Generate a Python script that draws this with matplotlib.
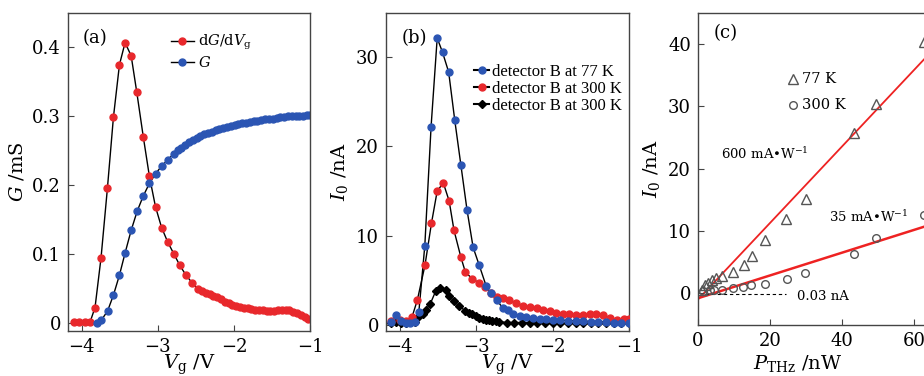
import numpy as np
import matplotlib
matplotlib.use("Agg")
import matplotlib.pyplot as plt

plt.rcParams['font.family'] = ['DejaVu Serif']
plt.rcParams['mathtext.fontset'] = 'dejavuserif'
plt.rcParams['xtick.direction'] = 'in'
plt.rcParams['ytick.direction'] = 'in'

RED = '#e8282c'
BLUE = '#2b55b3'
GREY = '#555555'

# ---- panel (a): dG/dVg and G vs Vg
dg_vg = [-4.10, -4.03, -3.96, -3.89, -3.825, -3.746, -3.662, -3.583, -3.504, -3.43, -3.35,
         -3.276, -3.19, -3.11, -3.03, -2.95, -2.87, -2.79, -2.71, -2.63, -2.55, -2.47,
         -2.42, -2.37, -2.32, -2.27, -2.22, -2.17, -2.12, -2.07, -2.02, -1.97, -1.92,
         -1.87, -1.82, -1.77, -1.72, -1.67, -1.62, -1.57, -1.52, -1.47, -1.42, -1.37,
         -1.32, -1.27, -1.22, -1.17, -1.12, -1.07, -1.02]
dg_val = [0.001, 0.001, 0.001, 0.001, 0.022, 0.094, 0.195, 0.298, 0.374, 0.406, 0.387,
          0.334, 0.269, 0.212, 0.168, 0.138, 0.117, 0.100, 0.083, 0.069, 0.058, 0.049,
          0.046, 0.043, 0.041, 0.039, 0.037, 0.034, 0.030, 0.028, 0.026, 0.024, 0.023,
          0.022, 0.021, 0.020, 0.019, 0.018, 0.018, 0.017, 0.017, 0.017, 0.018, 0.019,
          0.019, 0.018, 0.016, 0.014, 0.011, 0.008, 0.005]

g_vg = [-3.80, -3.74, -3.66, -3.583, -3.504, -3.43, -3.35, -3.27, -3.19, -3.11, -3.03,
        -2.95, -2.87, -2.79, -2.74, -2.69, -2.64, -2.59, -2.54, -2.49, -2.44, -2.39,
        -2.34, -2.29, -2.24, -2.19, -2.14, -2.09, -2.04, -1.99, -1.94, -1.89, -1.84,
        -1.79, -1.74, -1.69, -1.64, -1.59, -1.54, -1.49, -1.44, -1.39, -1.34, -1.29,
        -1.24, -1.19, -1.14, -1.09, -1.04, -1.00]
g_val = [0.000, 0.004, 0.017, 0.040, 0.069, 0.101, 0.134, 0.162, 0.184, 0.202, 0.216,
         0.227, 0.236, 0.245, 0.250, 0.254, 0.258, 0.262, 0.265, 0.268, 0.271, 0.273,
         0.275, 0.277, 0.279, 0.281, 0.283, 0.284, 0.285, 0.287, 0.288, 0.289, 0.290,
         0.291, 0.292, 0.293, 0.294, 0.295, 0.296, 0.296, 0.297, 0.298, 0.298, 0.299,
         0.299, 0.300, 0.300, 0.300, 0.301, 0.301]

# ---- panel (b): I0 vs Vg
b77_vg = [-4.12, -4.05, -3.98, -3.92, -3.86, -3.80, -3.75, -3.672, -3.59, -3.51, -3.44,
          -3.36, -3.28, -3.20, -3.12, -3.04, -2.96, -2.87, -2.81, -2.73, -2.65, -2.59,
          -2.52, -2.43, -2.35, -2.26, -2.17, -2.08, -2.00, -1.90, -1.80, -1.70, -1.60,
          -1.50, -1.40, -1.30, -1.20, -1.10, -1.00]
b77_i = [0.4, 1.1, 0.5, 0.3, 0.3, 0.4, 1.5, 8.9, 22.2, 32.1, 30.5,
         28.3, 22.9, 17.9, 12.9, 8.7, 6.7, 4.4, 3.6, 2.8, 1.9, 1.7,
         1.3, 1.0, 0.9, 0.8, 0.7, 0.7, 0.6, 0.6, 0.5, 0.5, 0.5,
         0.4, 0.4, 0.4, 0.3, 0.3, 0.3]

b300_vg = [-4.12, -4.00, -3.92, -3.84, -3.77, -3.67, -3.585, -3.51, -3.43, -3.354, -3.29,
           -3.20, -3.14, -3.05, -2.96, -2.88, -2.81, -2.73, -2.65, -2.57, -2.48, -2.39,
           -2.30, -2.21, -2.13, -2.04, -1.95, -1.86, -1.78, -1.69, -1.60, -1.51, -1.43,
           -1.34, -1.25, -1.16, -1.07, -1.00]
b300_i = [0.5, 0.6, 0.5, 0.9, 2.8, 6.7, 11.4, 15.0, 15.9, 13.9, 10.6,
          7.6, 5.9, 5.2, 4.7, 4.3, 3.6, 3.2, 3.0, 2.8, 2.5, 2.2,
          2.0, 1.9, 1.7, 1.6, 1.4, 1.3, 1.2, 1.1, 1.15, 1.2, 1.3,
          1.1, 0.85, 0.6, 0.7, 0.7]

bd_vg = [-4.12, -4.05, -3.98, -3.92, -3.86, -3.80, -3.75, -3.70, -3.66, -3.60, -3.53,
         -3.47, -3.40, -3.36, -3.29, -3.22, -3.14, -3.09, -3.05, -3.00, -2.96, -2.91,
         -2.87, -2.83, -2.79, -2.74, -2.70, -2.60, -2.50, -2.40, -2.30, -2.20, -2.10,
         -2.00, -1.90, -1.80, -1.70, -1.60, -1.50, -1.40, -1.30, -1.20, -1.10, -1.00]
bd_i = [0.3, 0.4, 0.2, 0.2, 0.5, 0.4, 1.0, 1.3, 1.7, 2.4, 3.8,
        4.2, 3.9, 3.3, 2.7, 2.1, 1.6, 1.4, 1.2, 1.0, 0.85, 0.7,
        0.6, 0.55, 0.5, 0.45, 0.4, 0.3, 0.3, 0.3, 0.25, 0.25, 0.2,
        0.2, 0.2, 0.2, 0.2, 0.2, 0.2, 0.2, 0.2, 0.2, 0.2, 0.2]

# ---- panel (c): I0 vs THz power
p77 = [1.2, 1.9, 2.9, 3.8, 4.9, 6.8, 9.8, 12.9, 14.9, 18.6, 24.5, 30.0, 43.3, 49.5, 62.8]
i77 = [0.6, 1.3, 1.7, 2.1, 2.5, 2.7, 3.4, 4.6, 5.9, 8.5, 12.0, 15.1, 25.7, 30.4, 40.3]
p300 = [1.5, 3.3, 4.4, 6.6, 9.8, 12.6, 14.7, 18.6, 24.6, 29.7, 43.3, 49.5, 62.8]
i300 = [0.4, 0.5, 0.6, 0.6, 0.85, 1.0, 1.3, 1.55, 2.3, 3.3, 6.3, 8.9, 12.5]
fit77_p = [0.0, 64.0]
fit77_i = [-1.0, 38.3]
fit300_p = [0.0, 64.0]
fit300_i = [-0.8, 10.9]
noise_p = [2.0, 24.5]
noise_i = [-0.1, -0.1]

fig = plt.figure(figsize=(9.24, 3.76), dpi=100)
H = 376.0
W = 924.0


def frame(ax):
    for s in ax.spines.values():
        s.set_color('#444444')
        s.set_linewidth(1.0)
    ax.tick_params(labelsize=13, length=4, width=0.8, color='#444444', pad=5)


# (a)
ax1 = fig.add_axes([68 / W, (H - 331) / H, 242 / W, 318 / H])
ax1.plot(dg_vg, dg_val, '-', color='k', lw=1.0, zorder=1)
ax1.plot(g_vg, g_val, '-', color='k', lw=1.0, zorder=1)
ax1.plot(dg_vg, dg_val, 'o', color=RED, ms=5, mec=RED, zorder=2)
ax1.plot(g_vg, g_val, 'o', color=BLUE, ms=5, mec=BLUE, zorder=2)
h1, = ax1.plot([], [], '-o', color='k', mfc=RED, mec=RED, ms=5, lw=1.0)
h2, = ax1.plot([], [], '-o', color='k', mfc=BLUE, mec=BLUE, ms=5, lw=1.0)
ax1.legend([h1, h2], ['d$G$/d$V_\\mathrm{g}$', '$G$'], loc='upper left',
           bbox_to_anchor=(0.4, 0.955), frameon=False, fontsize=10.5,
           handlelength=1.6, handletextpad=0.3, labelspacing=0.15, borderaxespad=0)
ax1.set_xlim(-4.18, -1)
ax1.set_ylim(-0.012, 0.449)
ax1.set_xticks([-4, -3, -2, -1])
ax1.set_xticklabels(['\u22124', '\u22123', '\u22122', '\u22121'])
ax1.set_yticks([0, 0.1, 0.2, 0.3, 0.4])
ax1.set_yticklabels(['0', '0.1', '0.2', '0.3', '0.4'])
ax1.set_xlabel('$V_\\mathrm{g}$ /V', fontsize=14, labelpad=-2)
ax1.set_ylabel('$G$ /mS', fontsize=14, labelpad=4)
ax1.text(0.06, 0.905, '(a)', transform=ax1.transAxes, fontsize=13)
frame(ax1)

# (b)
ax2 = fig.add_axes([386 / W, (H - 331) / H, 243 / W, 318 / H])
ax2.plot(b77_vg, b77_i, '-', color='k', lw=1.0, zorder=1)
ax2.plot(b300_vg, b300_i, '-', color='k', lw=1.0, zorder=1)
ax2.plot(bd_vg, bd_i, '-', color='k', lw=1.0, zorder=1)
ax2.plot(bd_vg, bd_i, 'D', color='k', ms=4.5, zorder=2)
ax2.plot(b300_vg, b300_i, 'o', color=RED, mec=RED, ms=5, zorder=3)
ax2.plot(b77_vg, b77_i, 'o', color=BLUE, mec=BLUE, ms=5, zorder=4)
hb1, = ax2.plot([], [], '-o', color='k', mfc=BLUE, mec=BLUE, ms=5, lw=1.5)
hb2, = ax2.plot([], [], '-o', color='k', mfc=RED, mec=RED, ms=5, lw=1.5)
hb3, = ax2.plot([], [], '-D', color='k', ms=4.5, lw=1.5)
ax2.legend([hb1, hb2, hb3],
           ['detector B at 77 K', 'detector B at 300 K', 'detector B at 300 K'],
           loc='upper right', bbox_to_anchor=(1.0, 0.86), frameon=False,
           prop={'family': 'Liberation Serif', 'size': 12},
           handlelength=0.9, handletextpad=0.2, labelspacing=0.05, borderaxespad=0)
ax2.set_xlim(-4.18, -1)
ax2.set_ylim(-0.65, 34.9)
ax2.set_xticks([-4, -3, -2, -1])
ax2.set_xticklabels(['\u22124', '\u22123', '\u22122', '\u22121'])
ax2.set_yticks([0, 10, 20, 30])
ax2.set_xlabel('$V_\\mathrm{g}$ /V', fontsize=14, labelpad=-2)
ax2.set_ylabel('$I_0$ /nA', fontsize=14, labelpad=4)
ax2.text(0.065, 0.905, '(b)', transform=ax2.transAxes, fontsize=13)
frame(ax2)

# (c)
px_per_nw = 72.0 / 20.0
ax3 = fig.add_axes([698 / W, (H - 325) / H, 80 * px_per_nw / W, 312 / H])
ax3.plot(fit77_p, fit77_i, '-', color='#ee2222', lw=1.3, zorder=1)
ax3.plot(fit300_p, fit300_i, '-', color='#ee2222', lw=1.8, zorder=1)
ax3.plot(noise_p, noise_i, '--', color='k', lw=0.8, dashes=(3, 2.5))
ax3.plot(p77, i77, '^', mfc='none', mec=GREY, ms=7, mew=1.0, zorder=2)
ax3.plot(p300, i300, 'o', mfc='none', mec=GREY, ms=5.5, mew=1.0, zorder=2)
ax3.plot([26.5], [34.4], '^', mfc='none', mec=GREY, ms=7, mew=1.0)
ax3.plot([26.5], [30.3], 'o', mfc='none', mec=GREY, ms=5.5, mew=1.0)
ax3.text(29.0, 34.4, '77 K', fontsize=10.5, va='center')
ax3.text(29.0, 30.3, '300 K', fontsize=10.5, va='center')
ax3.text(6.3, 22.4, '600 mA\u2022W$^{-1}$', fontsize=9.5, va='center')
ax3.text(36.3, 12.2, '35 mA\u2022W$^{-1}$', fontsize=9.5, va='center')
ax3.text(27.4, -0.6, '0.03 nA', fontsize=9.5, va='center')
ax3.text(0.055, 0.92, '(c)', transform=ax3.transAxes, fontsize=13)
ax3.set_xlim(0, 80)
ax3.set_ylim(-5.1, 45)
ax3.set_xticks([0, 20, 40, 60])
ax3.set_yticks([0, 10, 20, 30, 40])
ax3.set_ylabel('$I_0$ /nA', fontsize=14, labelpad=4)
ax3.set_xlabel('$P_\\mathrm{THz}$ /nW', fontsize=14, labelpad=0)
ax3.xaxis.set_label_coords(100.0 / (80 * px_per_nw), -0.09)
frame(ax3)

fig.savefig('out.png', dpi=100)
